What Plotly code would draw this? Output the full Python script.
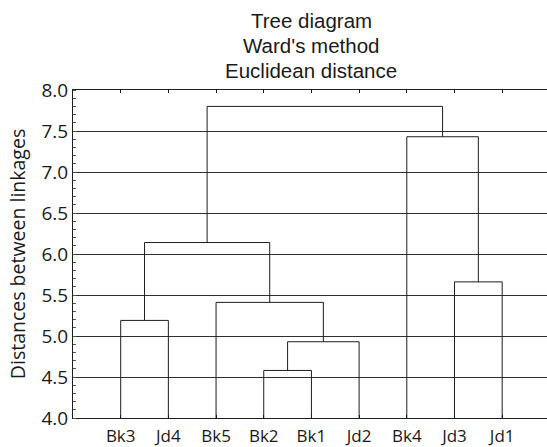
import plotly.graph_objects as go

# ---- data ----
leaves = ["Bk3", "Jd4", "Bk5", "Bk2", "Bk1", "Jd2", "Bk4", "Jd3", "Jd1"]
# merges: (left, right, height); ints < len(leaves) are leaves, larger refer to earlier merges
merge_left = [3, 9, 0, 2, 7, 11, 6, 14]
merge_right = [4, 5, 1, 10, 8, 12, 13, 15]
merge_height = [4.58, 4.93, 5.19, 5.41, 5.66, 6.14, 7.43, 7.80]
y_ticks = [4.0, 4.5, 5.0, 5.5, 6.0, 6.5, 7.0, 7.5, 8.0]
title_lines = ["Tree diagram", "Ward's method", "Euclidean distance"]
y_base = 4.0

# ---- build dendrogram segments ----
n = len(leaves)
node_x = {i: i + 1 for i in range(n)}
node_y = {i: y_base for i in range(n)}
xs, ys = [], []
for k, (a, b, h) in enumerate(zip(merge_left, merge_right, merge_height)):
    xa, ya = node_x[a], node_y[a]
    xb, yb = node_x[b], node_y[b]
    xs += [xa, xa, xb, xb, None]
    ys += [ya, h, h, yb, None]
    node_x[n + k] = (xa + xb) / 2
    node_y[n + k] = h

fig = go.Figure()
fig.add_trace(go.Scatter(x=xs, y=ys, mode="lines",
                         line=dict(color="#1e1e1e", width=1),
                         hoverinfo="skip", showlegend=False))

title_annots = []
for i, t in enumerate(title_lines):
    title_annots.append(dict(
        text=t, xref="paper", yref="paper", x=0.503, y=1,
        yanchor="middle", yshift=70 - 25 * i,
        showarrow=False, align="center",
        font=dict(family="Liberation Sans, Arial", size=20.5, color="#1a1a1a")))

fig.update_layout(
    width=547, height=447,
    margin=dict(l=73, r=0, t=90, b=29),
    paper_bgcolor="white", plot_bgcolor="white",
    showlegend=False,
    annotations=title_annots,
)
fig.update_xaxes(
    range=[0, 9.94], tickmode="array",
    tickvals=list(range(1, n + 1)), ticktext=leaves,
    ticks="inside", ticklen=3, tickcolor="#1e1e1e",
    showline=True, linecolor="#1e1e1e", linewidth=1, mirror="ticks",
    showgrid=False, zeroline=False,
    tickfont=dict(family="Open Sans", size=17, color="#1a1a1a"),
    ticklabelstandoff=3,
)
fig.update_yaxes(
    range=[4.0, 8.0], tickmode="array", tickvals=y_ticks,
    ticktext=[f"{v:.1f}" for v in y_ticks],
    ticks="", showline=True, linecolor="#1e1e1e", linewidth=1, mirror=False,
    showgrid=True, gridcolor="#303030", gridwidth=1, zeroline=False,
    tickfont=dict(family="Open Sans", size=19, color="#1a1a1a"),
    minor=dict(tickvals=[round(4.0 + 0.1 * i, 1) for i in range(41)],
               ticks="inside", ticklen=3, tickcolor="#555555", showgrid=False),
    title=dict(text="Distances between linkages",
               font=dict(family="Open Sans", size=19.5, color="#1a1a1a"), standoff=10),
)

fig.write_html("out.html", config={"displayModeBar": False},
               post_script="document.body.style.margin='0';")
